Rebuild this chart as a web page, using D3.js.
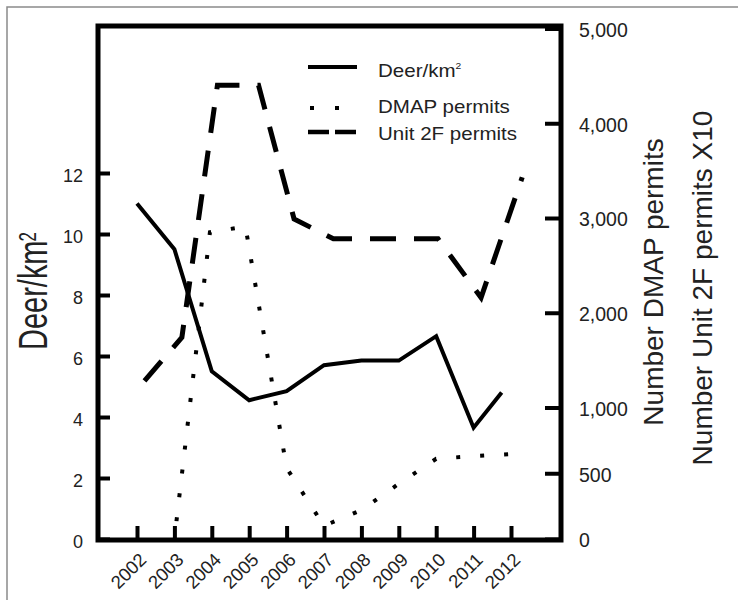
<!DOCTYPE html>
<html>
<head>
<meta charset="utf-8">
<script src="https://cdn.jsdelivr.net/npm/d3@7"></script>
<style>
  html, body { margin: 0; padding: 0; background: #fff; }
  svg { display: block; font-family: "Liberation Sans", Arial, Helvetica, sans-serif; }
</style>
</head>
<body>
<svg id="chart" width="738" height="600"></svg>
<script>
// Survey years shown on the x axis
const years = [2002, 2003, 2004, 2005, 2006, 2007, 2008, 2009, 2010, 2011, 2012];

// Deer density (deer per km², left axis)
const deerYears = [2002, 2003, 2004, 2005, 2006, 2007, 2008, 2009, 2010, 2011, 2011.75];
const deerDensity = [11.0, 9.5, 5.5, 4.55, 4.85, 5.7, 5.85, 5.85, 6.65, 3.65, 4.8];

// DMAP permits issued (right axis)
const dmapYears = [2003, 2003.95, 2004.9, 2006, 2007, 2008, 2009, 2010, 2011, 2012.3];
const dmapPermits = [0, 2850, 2910, 540, 100, 220, 420, 610, 630, 650];

// Unit 2F permits, times ten (right axis)
const unitYears = [2002.2, 2003.2, 2004.15, 2005.25, 2006.2, 2007.25, 2008.2, 2009.2, 2010.05, 2011.2, 2012.3];
const unitPermitsX10 = [1280, 1740, 4400, 4400, 2990, 2780, 2780, 2780, 2780, 2160, 3430];

// Axis tick values
const deerTicks = [0, 2, 4, 6, 8, 10, 12];
const permitTicks = [0, 500, 1000, 2000, 3000, 4000, 5000];

// Legend entries
const legendLabels = ["Deer/km", "DMAP permits", "Unit 2F permits"];

const svg = d3.select("#chart");
const frame = { left: 98, right: 561, top: 26, bottom: 540 };

const x = d3.scaleLinear().domain([2002, 2012]).range([137, 511]);
const yDeer = d3.scaleLinear().domain([0, 12]).range([539, 173]);
// Permit axis is stretched below 1,000
const yPermits = d3.scaleLinear().domain([0, 1000, 5000]).range([539, 407.5, 28.5]);

// Outer figure border
svg.append("rect")
  .attr("x", 7).attr("y", 7).attr("width", 760).attr("height", 620)
  .attr("fill", "none").attr("stroke", "#8a8a8a").attr("stroke-width", 1.5);

// Left axis
const gLeft = svg.append("g")
  .attr("transform", `translate(${frame.left},0)`)
  .call(d3.axisLeft(yDeer).tickValues(deerTicks).tickSizeInner(-12).tickSizeOuter(0).tickPadding(15));
gLeft.select(".domain").remove();
gLeft.selectAll(".tick line").attr("stroke", "#000").attr("stroke-width", 4);
gLeft.selectAll(".tick text").attr("font-size", 18).attr("fill", "#222")
  .attr("font-family", "'Liberation Sans', Arial, sans-serif").attr("dy", "0.45em");

// Right axis
const gRight = svg.append("g")
  .attr("transform", `translate(${frame.right},0)`)
  .call(d3.axisRight(yPermits).tickValues(permitTicks).tickSizeInner(-16).tickSizeOuter(0)
    .tickPadding(18).tickFormat(d3.format(",")));
gRight.select(".domain").remove();
gRight.selectAll(".tick line").attr("stroke", "#000").attr("stroke-width", 4);
gRight.selectAll(".tick text").attr("font-size", 19.5).attr("fill", "#222")
  .attr("font-family", "'Liberation Sans', Arial, sans-serif").attr("dy", "0.4em");

// Bottom axis with slanted year labels
const gBottom = svg.append("g")
  .attr("transform", `translate(0,${frame.bottom})`)
  .call(d3.axisBottom(x).tickValues(years).tickSizeInner(-14).tickSizeOuter(0).tickFormat(d3.format("d")));
gBottom.select(".domain").remove();
gBottom.selectAll(".tick line").attr("stroke", "#000").attr("stroke-width", 4);
gBottom.selectAll(".tick text")
  .attr("font-size", 18.5).attr("fill", "#222")
  .attr("font-family", "'Liberation Sans', Arial, sans-serif")
  .attr("y", 0).attr("dy", 0)
  .attr("text-anchor", "end")
  .attr("transform", "translate(10,21) rotate(-45)");

// Plot box
svg.append("rect")
  .attr("x", frame.left).attr("y", frame.top)
  .attr("width", frame.right - frame.left).attr("height", frame.bottom - frame.top)
  .attr("fill", "none").attr("stroke", "#000").attr("stroke-width", 5);

// Series lines
const unitLine = d3.line().x((d, i) => x(unitYears[i])).y(d => yPermits(d));
svg.append("path")
  .datum(unitPermitsX10)
  .attr("d", unitLine)
  .attr("fill", "none").attr("stroke", "#000").attr("stroke-width", 5)
  .attr("stroke-dasharray", "26 18").attr("stroke-linejoin", "miter").attr("stroke-linecap", "butt");

const dmapLine = d3.line().x((d, i) => x(dmapYears[i])).y(d => yPermits(d));
svg.append("path")
  .datum(dmapPermits)
  .attr("d", dmapLine)
  .attr("fill", "none").attr("stroke", "#000").attr("stroke-width", 4)
  .attr("stroke-dasharray", "4 20").attr("stroke-dashoffset", -18).attr("stroke-linecap", "butt");

const deerLine = d3.line().x((d, i) => x(deerYears[i])).y(d => yDeer(d));
svg.append("path")
  .datum(deerDensity)
  .attr("d", deerLine)
  .attr("fill", "none").attr("stroke", "#000").attr("stroke-width", 4)
  .attr("stroke-linejoin", "miter");

// Legend
const legend = svg.append("g");
legend.append("line").attr("x1", 308).attr("x2", 357).attr("y1", 67).attr("y2", 67)
  .attr("stroke", "#000").attr("stroke-width", 4);
legend.append("line").attr("x1", 310).attr("x2", 341).attr("y1", 108).attr("y2", 108)
  .attr("stroke", "#000").attr("stroke-width", 4).attr("stroke-dasharray", "4 21");
legend.append("line").attr("x1", 308).attr("x2", 357).attr("y1", 132).attr("y2", 132)
  .attr("stroke", "#000").attr("stroke-width", 4.5).attr("stroke-dasharray", "21 6");

const legendBaselines = [77, 113, 140];
legendLabels.forEach((label, i) => {
  const t = legend.append("text")
    .attr("transform", `translate(378,${legendBaselines[i]}) scale(1.14,1)`)
    .attr("font-size", 18).attr("fill", "#222")
    .text(label);
  if (i === 0) {
    t.append("tspan").attr("font-size", 9).attr("dy", -8).text("2");
  }
});

// Left axis title
const leftTitle = svg.append("text")
  .attr("transform", "translate(47,350) rotate(-90) scale(1,1.43)")
  .attr("font-size", 29).attr("fill", "#222")
  .attr("text-anchor", "start")
  .text("Deer/km");
leftTitle.append("tspan").attr("font-size", 17).attr("dy", -8).attr("dx", -1).text("2");

// Right axis titles
svg.append("text")
  .attr("transform", "translate(663,282) rotate(-90)")
  .attr("font-size", 28).attr("fill", "#222").attr("text-anchor", "middle")
  .text("Number DMAP permits");
svg.append("text")
  .attr("transform", "translate(712,288) rotate(-90)")
  .attr("font-size", 28).attr("fill", "#222").attr("text-anchor", "middle")
  .text("Number Unit 2F permits X10");
</script>
</body>
</html>
